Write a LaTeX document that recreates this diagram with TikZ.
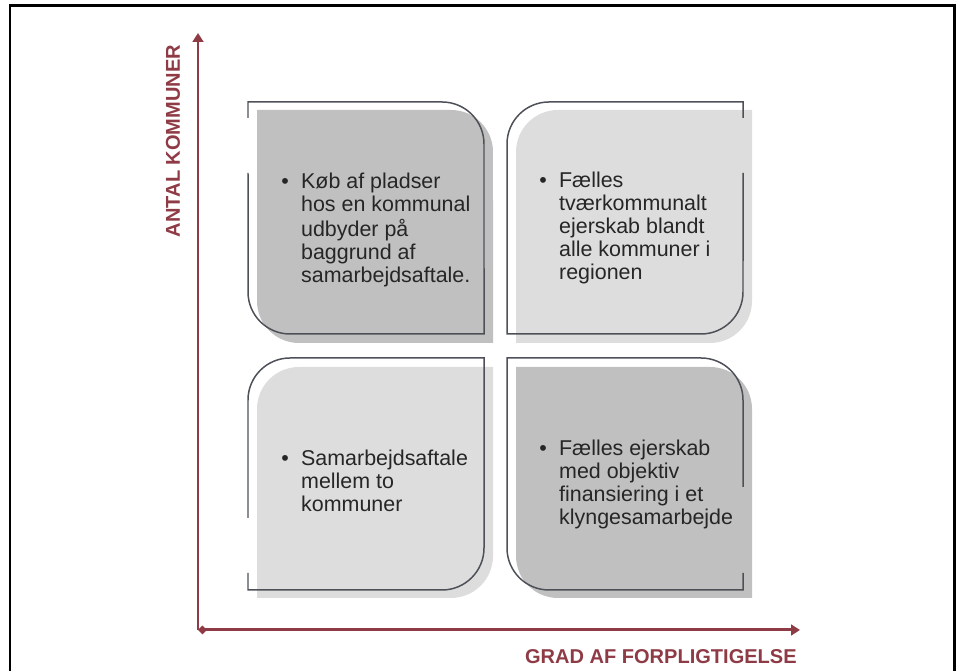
\documentclass[tikz,border=0pt]{standalone}
\usepackage{fontspec}
\setmainfont{Liberation Sans}
\usetikzlibrary{arrows.meta,positioning}

\definecolor{axisRed}{HTML}{8E3B46}
\definecolor{boxLine}{HTML}{4D5157}
\definecolor{darkFill}{HTML}{C0C0C0}
\definecolor{lightFill}{HTML}{DDDDDD}
\definecolor{bodyText}{HTML}{262626}

\begin{document}
\begin{tikzpicture}[x=0.02cm, y=0.02cm,
    outline/.style={draw=boxLine, line width=0.85pt},
    axis/.style={draw=axisRed, line width=1.7pt},
    axisLabel/.style={text=axisRed, font=\bfseries\fontsize{11.4}{13}\selectfont, inner sep=0pt},
    bulletText/.style={anchor=west, inner sep=0pt, text=bodyText, font=\fontsize{12.2}{13.1}\selectfont}]
    \useasboundingbox (0,0) rectangle (960,671);
    \draw[line width=1.7pt] (10,0) -- (10,665) -- (954,665) -- (954,0);

    % shaded quadrants
    \fill[darkFill] (257,561) -- (451,561) arc[start angle=90, end angle=0, radius=0.84cm] -- (493,328) -- (299,328) arc[start angle=270, end angle=180, radius=0.84cm] -- cycle;
    \fill[lightFill] (516,519) arc[start angle=180, end angle=90, radius=0.84cm] -- (752,561) -- (752,370) arc[start angle=0, end angle=-90, radius=0.84cm] -- (516,328) -- cycle;
    \fill[lightFill] (257,262) arc[start angle=180, end angle=90, radius=0.84cm] -- (493,304) -- (493,115) arc[start angle=0, end angle=-90, radius=0.84cm] -- (257,73) -- cycle;
    \fill[darkFill] (516,304) -- (710,304) arc[start angle=90, end angle=0, radius=0.84cm] -- (752,73) -- (558,73) arc[start angle=270, end angle=180, radius=0.84cm] -- cycle;

    % outlines
    \draw[outline] (248,553) -- (248,569) -- (442,569) arc[start angle=90, end angle=0, radius=0.84cm] -- (484,337) -- (290,337) arc[start angle=270, end angle=180, radius=0.84cm] -- (248,498);
    \draw[outline] (743,553) -- (743,569) -- (549,569) arc[start angle=90, end angle=180, radius=0.84cm] -- (507,337) -- (701,337) arc[start angle=270, end angle=360, radius=0.84cm] -- (743,498);
    \draw[outline] (248,153) -- (248,271) arc[start angle=180, end angle=90, radius=0.84cm] -- (484,313) -- (484,123) arc[start angle=0, end angle=-90, radius=0.84cm] -- (248,81) -- (248,98);
    \draw[outline] (743,184) -- (743,271) arc[start angle=0, end angle=90, radius=0.84cm] -- (507,313) -- (507,123) arc[start angle=180, end angle=270, radius=0.84cm] -- (743,81) -- (743,98);

    \node[bulletText] (topLeft) at (281,440) {\begin{tabular}{@{}l@{\hspace{7pt}}l@{}}\textbullet & Køb af pladser\\ & hos en kommunal\\ & udbyder på\\ & baggrund af\\ & samarbejdsaftale.\end{tabular}};
    \node[bulletText] (topRight) at (539,442) {\begin{tabular}{@{}l@{\hspace{7pt}}l@{}}\textbullet & Fælles\\ & tværkommunalt\\ & ejerskab blandt\\ & alle kommuner i\\ & regionen\end{tabular}};
    \node[bulletText] (bottomLeft) at (281,187) {\begin{tabular}{@{}l@{\hspace{7pt}}l@{}}\textbullet & Samarbejdsaftale\\ & mellem to\\ & kommuner\end{tabular}};
    \node[bulletText] (bottomRight) at (539,186) {\begin{tabular}{@{}l@{\hspace{7pt}}l@{}}\textbullet & Fælles ejerskab\\ & med objektiv\\ & finansiering i et\\ & klyngesamarbejde\end{tabular}};

    % axes
    \coordinate (origin) at (198,41);
    \coordinate (yTip) at (198,638);
    \coordinate (xTip) at (800,41);
    \draw[axis, -{Triangle[width=6pt,length=5pt]}] (origin) -- (yTip);
    \draw[axis, {Diamond[width=5pt,length=5pt]}-{Triangle[width=6pt,length=5pt]}] (origin) -- (xTip);
    \node[axisLabel, rotate=90] (yLabel) at (173,530) {ANTAL KOMMUNER};
    \node[axisLabel, anchor=east] (xLabel) at (797,14) {GRAD AF FORPLIGTIGELSE};
\end{tikzpicture}
\end{document}
